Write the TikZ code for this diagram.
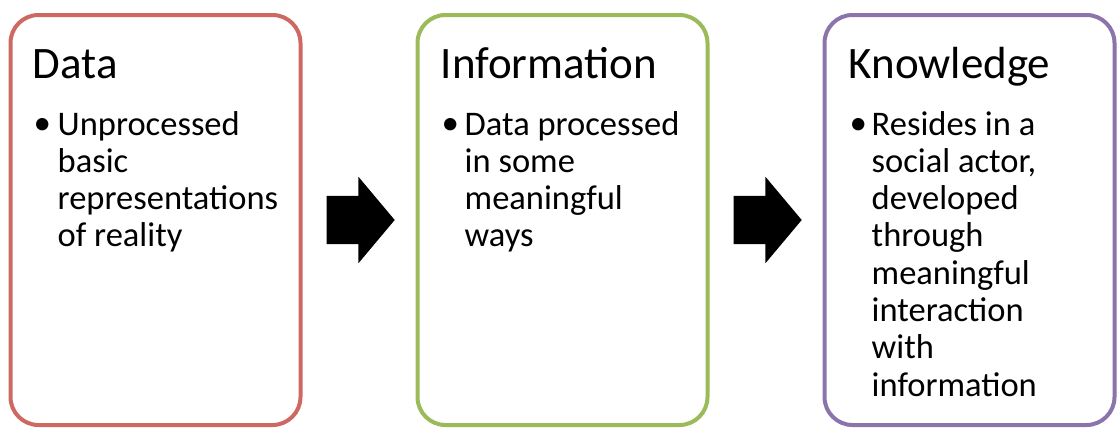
\documentclass[tikz,border=0pt]{standalone}
\usepackage{fontspec}
\setmainfont{Carlito}
\usetikzlibrary{positioning,shapes.arrows}
\definecolor{datared}{RGB}{205,105,98}
\definecolor{infogreen}{RGB}{155,187,89}
\definecolor{knowpurple}{RGB}{139,116,171}
\tikzset{
x=1pt, y=1pt,
node distance=117pt,
box/.style={draw, rounded corners=28pt, line width=4pt, minimum width=290pt, minimum height=410pt, inner sep=0pt, outer sep=0pt},
head/.style={font=\fontsize{45}{49}\selectfont, anchor=base west, inner sep=0pt},
dot/.style={font=\fontsize{35}{38}\selectfont, anchor=base west, inner sep=0pt},
body/.style={font=\fontsize{34.5}{37.3}\selectfont, anchor=base west, inner sep=0pt, text width=245pt, align=flush left},
blockarrow/.style={single arrow, fill=black, inner xsep=0pt, inner ysep=24pt, minimum height=68pt, minimum width=86pt, single arrow head extend=19pt, single arrow tip angle=100},
}
\begin{document}
\begin{tikzpicture}
    \useasboundingbox (0,0) rectangle (1117,-429);
    \node[box, datared] (data) at (155.5,-220) {};
    \node[box, infogreen] (info) [right=of data] {};
    \node[box, knowpurple] (know) [right=of info] {};
    % titles
    \node[head] (dataT) at ([shift={(22,-63)}]data.north west) {Data};
    \node[head] (infoT) at ([shift={(23,-63)}]info.north west) {Information};
    \node[head] (knowT) at ([shift={(24,-63)}]know.north west) {Knowledge};
    % bullets
    \node[dot] (dataB) at ([shift={(1,-56)}]dataT.base west) {\textbullet};
    \node[dot] (infoB) at ([shift={(1,-56)}]infoT.base west) {\textbullet};
    \node[dot] (knowB) at ([shift={(1,-56)}]knowT.base west) {\textbullet};
    \node[body] (dataL) at ([shift={(24,-1)}]dataB.base west) {Unprocessed\\basic\\representations\\of reality};
    \node[body] (infoL) at ([shift={(23,-1)}]infoB.base west) {Data processed\\in some\\meaningful\\ways};
    \node[body] (knowL) at ([shift={(22,-1)}]knowB.base west) {Resides in a\\social actor,\\developed\\through\\meaningful\\interaction\\with\\information};
    % arrows
    \node[blockarrow] (arrA) [right=26pt of data] {};
    \node[blockarrow] (arrB) [right=26pt of info] {};
\end{tikzpicture}
\end{document}
